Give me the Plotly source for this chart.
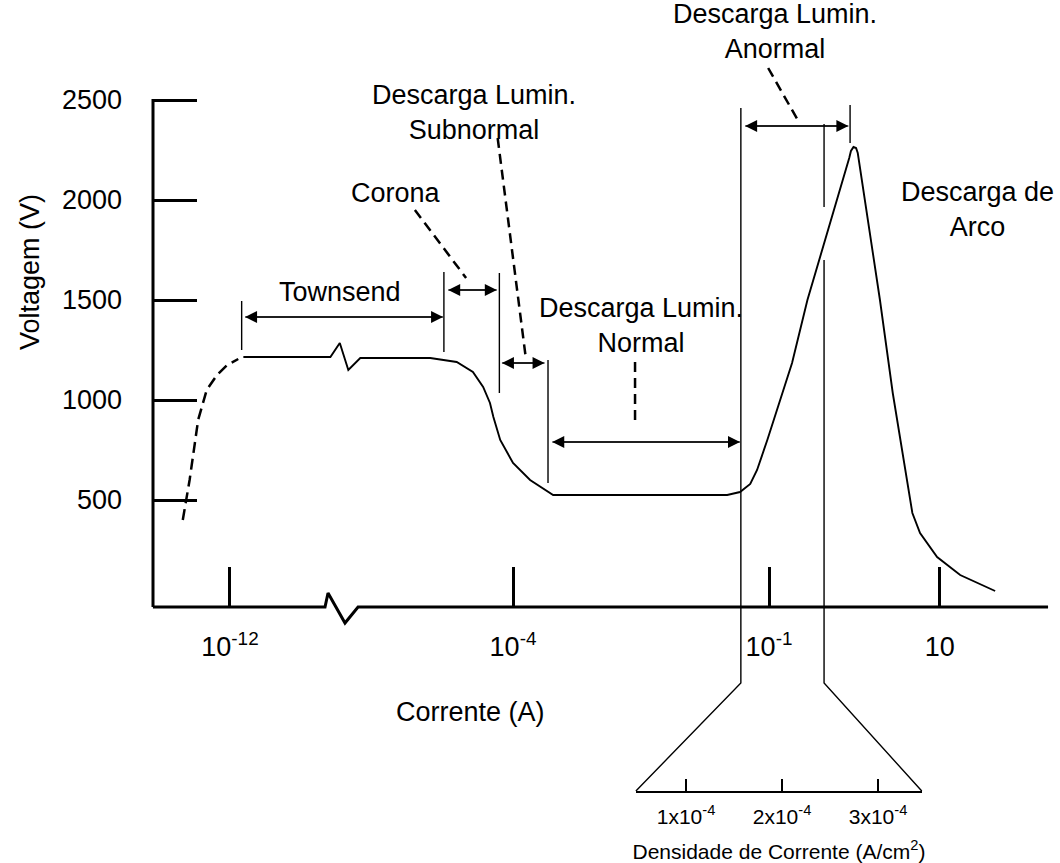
import plotly.graph_objects as go

FONT = "Liberation Sans, Arial, sans-serif"

# ---- data (x: position on the log current axis in decades, broken left of 1e-4; y: volts) ----
pre_x = [-7.87, -7.79, -7.69, -7.59, -7.47, -7.35, -7.22]
pre_v = [400, 600, 900, 1050, 1125, 1175, 1205]

curve_x = [-7.16, -6.14, -6.03, -5.93, -5.79, -4.97, -4.66, -4.47, -4.35, -4.27, -4.23, -4.15,
           -4.00, -3.80, -3.53, -1.49, -1.34, -1.22, -1.14, -1.02, -0.73, -0.55, -0.06, -0.04,
           -0.01, 0.02, 0.04, 0.30, 0.45, 0.68, 0.77, 0.97, 1.24, 1.65]
curve_v = [1215, 1215, 1285, 1150, 1210, 1210, 1190, 1140, 1065, 985, 915, 800,
           685, 600, 525, 525, 540, 580, 650, 800, 1185, 1500, 2210, 2245,
           2265, 2260, 2235, 1500, 1035, 435, 335, 215, 125, 45]

x_tickvals = [-7.317, -4, -1, 1]
x_ticktext = ["10<sup>-12</sup>", "10<sup>-4</sup>", "10<sup>-1</sup>", "10"]
y_tickvals = [500, 1000, 1500, 2000, 2500]
y_ticktext = ["500", "1000", "1500", "2000", "2500"]

inset_tickvals = [1e-4, 2e-4, 3e-4]
inset_ticktext = ["1x10<sup>-4</sup>", "2x10<sup>-4</sup>", "3x10<sup>-4</sup>"]

# axis lines (with break on current axis)
xaxis_line_x = [-8.22, -6.203, -6.168, -5.969, -5.816, 2.27]
xaxis_line_v = [-35, -35, 35, -115, -35, -35]
yaxis_line_x = [-8.219, -8.219]
yaxis_line_v = [2505, -35]

# region boundaries: (x, v_top, v_bottom)
bounds = [(-7.18, 1495, 1250), (-4.81, 1640, 1240), (-4.16, 1635, 1035),
          (-3.59, 1200, 585), (-0.05, 2475, 2285), (-0.355, 2380, 1965)]
# double arrows: (x_left, x_right, v)
ranges = [(-7.14, -4.82, 1415), (-4.76, -4.19, 1550), (-4.13, -3.63, 1185),
          (-3.54, -1.34, 790), (-1.28, -0.07, 2370)]
# dashed leaders: (x0, v0, x1, v1)
leaders = [(-5.15, 1950, -4.55, 1610), (-4.18, 2310, -3.85, 1210),
           (-2.57, 1190, -2.57, 885), (-1.01, 2660, -0.67, 2405)]
# inset connector (abnormal region expanded into current density)
conn_left_x = [-1.33, -1.33, -2.56]
conn_left_v = [2460, -415, -955]
conn_right_x = [-0.355, -0.355, 0.79]
conn_right_v = [1700, -415, -955]

labels = [
    ("Townsend", -6.03, 1540),
    ("Corona", -5.37, 2035),
    ("Descarga Lumin.<br>Subnormal", -4.46, 2440),
    ("Descarga Lumin.<br>Normal", -2.50, 1375),
    ("Descarga Lumin.<br>Anormal", -0.93, 2845),
    ("Descarga de<br>Arco", 1.44, 1955),
    ("Corrente (A)", -4.50, -560),
]

fig = go.Figure()

fig.add_trace(go.Scatter(x=xaxis_line_x, y=xaxis_line_v, mode="lines",
                         line=dict(color="black", width=3), hoverinfo="skip"))
fig.add_trace(go.Scatter(x=yaxis_line_x, y=yaxis_line_v, mode="lines",
                         line=dict(color="black", width=3), hoverinfo="skip"))
fig.add_trace(go.Scatter(x=pre_x, y=pre_v, mode="lines",
                         line=dict(color="black", width=2.5, dash="11px,6px"), hoverinfo="skip"))
fig.add_trace(go.Scatter(x=curve_x, y=curve_v, mode="lines",
                         line=dict(color="black", width=1.9), hoverinfo="skip"))
for bx, vt, vb in bounds:
    fig.add_trace(go.Scatter(x=[bx, bx], y=[vt, vb], mode="lines",
                             line=dict(color="black", width=1.4), hoverinfo="skip"))
for x0, v0, x1, v1 in leaders:
    fig.add_trace(go.Scatter(x=[x0, x1], y=[v0, v1], mode="lines",
                             line=dict(color="black", width=2.5, dash="10px,6px"), hoverinfo="skip"))
fig.add_trace(go.Scatter(x=conn_left_x, y=conn_left_v, mode="lines",
                         line=dict(color="black", width=1.4), hoverinfo="skip"))
fig.add_trace(go.Scatter(x=conn_right_x, y=conn_right_v, mode="lines",
                         line=dict(color="black", width=1.4), hoverinfo="skip"))
for xl, xr, v in ranges:
    fig.add_trace(go.Scatter(x=[xl, xr], y=[v, v], mode="lines",
                             line=dict(color="black", width=1.2), hoverinfo="skip"))
fig.add_trace(go.Scatter(x=inset_tickvals, y=[0, 0, 0], mode="markers", xaxis="x2", yaxis="y2",
                         marker=dict(opacity=0), hoverinfo="skip"))

annotations = []
for xl, xr, v in ranges:
    for tip, tail in ((xl, xr), (xr, xl)):
        annotations.append(dict(x=tip, y=v, ax=tail, ay=v, xref="x", yref="y", axref="x", ayref="y",
                                text="", showarrow=True, arrowhead=2, arrowsize=2.0,
                                arrowwidth=1.2, arrowcolor="black", standoff=0, startstandoff=0))
for txt, x, v in labels:
    annotations.append(dict(x=x, y=v, xref="x", yref="y", text=txt, showarrow=False,
                            font=dict(family=FONT, size=27, color="black"), align="center"))
annotations.append(dict(x=-9.66, y=1640, xref="x", yref="y", text="Voltagem (V)", showarrow=False,
                        textangle=-90, font=dict(family=FONT, size=27, color="black")))

fig.update_layout(
    width=1060, height=863,
    margin=dict(l=0, r=0, t=0, b=0),
    paper_bgcolor="white", plot_bgcolor="rgba(0,0,0,0)",
    showlegend=False,
    annotations=annotations,
    xaxis=dict(range=[-10.012, 2.410], domain=[0, 1], anchor="free", position=1 - 607 / 863,
               showgrid=False, zeroline=False, showline=False,
               tickmode="array", tickvals=x_tickvals, ticktext=x_ticktext,
               ticks="inside", ticklen=40, tickwidth=3, tickcolor="black",
               ticklabelstandoff=21,
               tickfont=dict(family=FONT, size=27, color="black")),
    yaxis=dict(range=[-1315, 3000], domain=[0, 1], anchor="free", position=153 / 1060,
               showgrid=False, zeroline=False, showline=False,
               tickmode="array", tickvals=y_tickvals, ticktext=y_ticktext,
               ticks="inside", ticklen=43, tickwidth=3, tickcolor="black",
               ticklabelstandoff=31,
               tickfont=dict(family=FONT, size=27, color="black")),
    xaxis2=dict(domain=[636 / 1060, 922 / 1060], anchor="y2", range=[0.479e-4, 3.458e-4],
                showgrid=False, zeroline=False, showline=True, linewidth=1.5, linecolor="black",
                tickmode="array", tickvals=inset_tickvals, ticktext=inset_ticktext,
                ticks="inside", ticklen=12, tickwidth=1.5, tickcolor="black",
                ticklabelstandoff=6,
                tickfont=dict(family=FONT, size=21, color="black"),
                title=dict(text="Densidade de Corrente (A/cm<sup>2</sup>)", standoff=18,
                           font=dict(family=FONT, size=21, color="black"))),
    yaxis2=dict(domain=[1 - 791 / 863, 0.2], anchor="x2", range=[0, 1], visible=False),
)

fig.write_html("out.html", config={"displayModeBar": False},
               post_script="document.body.style.margin='0px';document.body.style.overflow='hidden';")
